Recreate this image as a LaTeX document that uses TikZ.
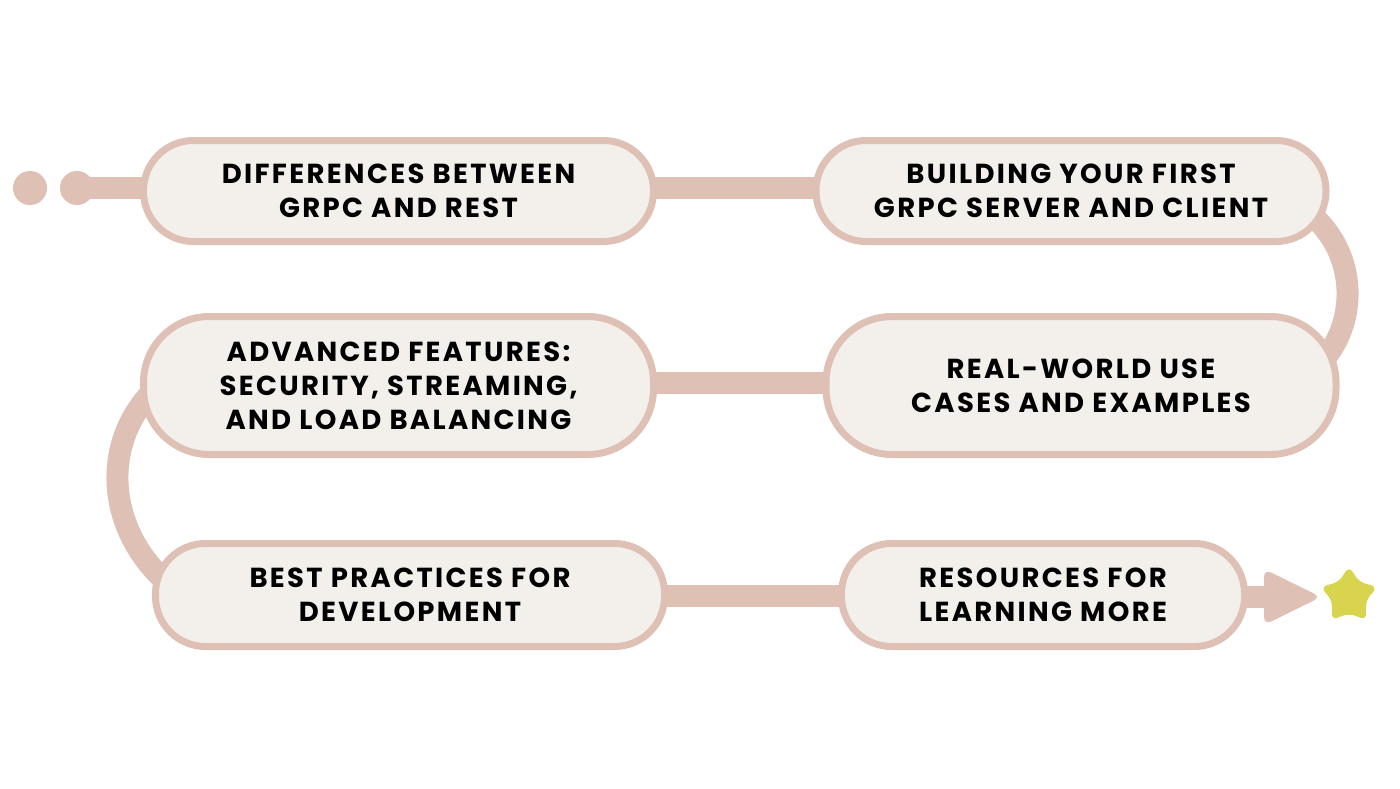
\documentclass[tikz,border=0pt]{standalone}
\usepackage{fontspec}
\setmainfont{Poppins}
\newfontfamily\boxfont{Poppins}[LetterSpace=8.5]
\usetikzlibrary{shapes.geometric,backgrounds,calc}
\definecolor{pathc}{HTML}{DEC0B4}
\definecolor{boxfill}{HTML}{F3F0EB}
\definecolor{starc}{HTML}{D8D44E}
\tikzset{
  stepbox/.style={draw=pathc, line width=7pt, fill=boxfill, rounded corners=50pt,
    align=center, font=\boxfont\fontsize{27.5}{34}\selectfont\bfseries, text=black, inner sep=0pt},
  bar/.style={draw=pathc, line width=22pt},
  dotc/.style={circle, fill=pathc, minimum size=34pt, inner sep=0pt}
}
\begin{document}
\begin{tikzpicture}[x=1pt,y=-1pt]
\useasboundingbox (0,0) rectangle (1400,788);
\node[stepbox, minimum width=510pt, minimum height=101pt] (n1) at (398.5,191) {DIFFERENCES BETWEEN\\GRPC AND REST};
\node[stepbox, minimum width=510pt, minimum height=101pt] (n2) at (1071,191) {BUILDING YOUR FIRST\\GRPC SERVER AND CLIENT};
\node[stepbox, minimum width=510pt, minimum height=138pt, rounded corners=66pt] (n3) at (398.5,385.5) {ADVANCED FEATURES:\\SECURITY, STREAMING,\\AND LOAD BALANCING};
\node[stepbox, minimum width=510pt, minimum height=138pt, rounded corners=66pt] (n4) at (1081,385.5) {REAL-WORLD USE\\CASES AND EXAMPLES};
\node[stepbox, minimum width=509pt, minimum height=103pt] (n5) at (410,595) {BEST PRACTICES FOR\\DEVELOPMENT};
\node[stepbox, minimum width=403pt, minimum height=103pt] (n6) at (1043,595) {RESOURCES FOR\\LEARNING MORE};
\node[dotc] (d1) at (30,188) {};
\node[dotc] (d2) at (77,188) {};
\coordinate (tip) at (1320,597);
\node[star, star points=5, star point ratio=1.75, minimum size=60pt, fill=starc, rounded corners=7pt, inner sep=0pt] (st) at (1349,596) {};
\begin{scope}[on background layer]
\draw[bar] (d2.center) -- (n1.center |- d2.center);
\draw[bar] (n1.center |- d2.center) -- (n2.center |- d2.center);
\draw[bar] ($(n2.center)+(219,9)$) .. controls +(75,40) and +(65,-40) .. ($(n4.center)+(219,-5.5)$);
\draw[bar] ($(n3.center)+(0,-2.5)$) -- ($(n4.center)+(0,-2.5)$);
\draw[bar] ($(n3.center)+(-218.5,-15.5)$) .. controls +(-85,50) and +(-95,-60) .. ($(n5.center)+(-220,5)$);
\draw[bar] ($(n5.center)+(0,1)$) -- ($(n6.center)+(0,1)$);
\draw[bar] ($(n6.center)+(0,2)$) -- ($(tip)+(-45,0)$);
\end{scope}
\fill[pathc, rounded corners=8pt] ($(tip)+(-56,-28)$) -- ($(tip)+(1,0)$) -- ($(tip)+(-56,28)$) -- cycle;
\end{tikzpicture}
\end{document}
